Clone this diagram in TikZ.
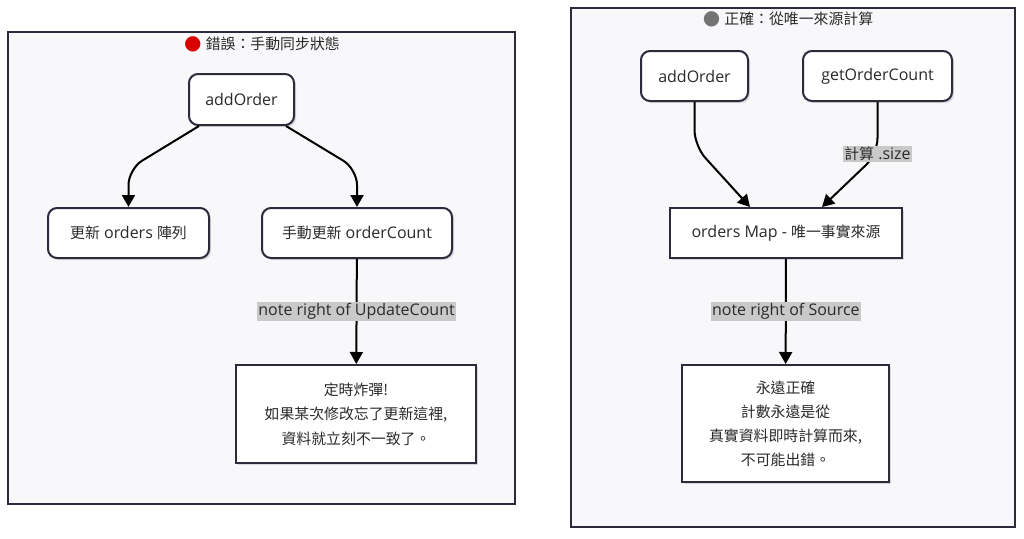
\documentclass[tikz,border=0pt]{standalone}
\usepackage{fontspec}
\setmainfont{Open Sans}
\newfontfamily\cjk[Scale=0.93]{Noto Sans CJK TC}
\newfontfamily\dotfont[Scale=1.25]{DejaVu Sans}
\usetikzlibrary{arrows.meta,shadows}
\definecolor{inkc}{HTML}{2A2A2A}
\definecolor{edgec}{HTML}{2B2B3C}
\definecolor{framefill}{HTML}{F8F8FB}
\begin{document}
\begin{tikzpicture}[x=1pt,y=-1pt,font=\fontsize{16}{24.5}\selectfont,text=inkc,
	frame/.style={draw=edgec,line width=1.8pt,fill=framefill},
	card/.style={draw=edgec,line width=2pt,fill=white,align=center,
		drop shadow={shadow xshift=2pt,shadow yshift=-2pt,opacity=.12,fill=black}},
	rcard/.style={card,rounded corners=9pt},
	note/.style={card,font=\fontsize{16}{24.5}\selectfont\cjk},
	flow/.style={line width=2pt,-{Triangle[length=12pt,width=13pt]},rounded corners=16pt},
	lbl/.style={fill=black!21,inner sep=1.5pt,sharp corners}]
	\useasboundingbox[fill=white] (0,0) rectangle (1024,538);
	% left: manual sync
	\draw[frame] (8,32) rectangle (515,504);
	\node (ttlL) at (262,44) {{\dotfont\textcolor{red!85!black}{●}} \cjk 錯誤：手動同步狀態};
	\node[rcard,minimum width=105pt,minimum height=51pt] (addL) at (241.5,99.5) {addOrder};
	\node[rcard,minimum width=161pt,minimum height=50pt] (updArr) at (128.5,233) {{\cjk 更新} orders {\cjk 陣列}};
	\node[rcard,minimum width=190pt,minimum height=50pt] (updCnt) at (357,233) {{\cjk 手動更新} orderCount};
	\node[note,minimum width=240pt,minimum height=98pt] (noteL) at (356,414) {定時炸彈!\\如果某次修改忘了更新這裡,\\資料就立刻不一致了。};
	\draw[flow] ([xshift=11pt]addL.south west) -- ([yshift=38pt]updArr.north) -- (updArr.north);
	\draw[flow] ([xshift=-9pt]addL.south east) -- ([yshift=38pt]updCnt.north) -- (updCnt.north);
	\draw[flow] (updCnt) -- node[lbl] {note right of UpdateCount} (noteL);
	% right: single source
	\draw[frame] (571,8) rectangle (1015,527);
	\node (ttlR) at (788,19) {{\dotfont\textcolor{black!55}{●}} \cjk 正確：從唯一來源計算};
	\node[rcard,minimum width=107pt,minimum height=50pt] (addR) at (694.5,76) {addOrder};
	\node[rcard,minimum width=149pt,minimum height=50pt] (getCnt) at (877.5,76) {getOrderCount};
	\node[card,minimum width=232pt,minimum height=50pt] (src) at (786,233) {orders Map - {\cjk 唯一事實來源}};
	\node[note,minimum width=207pt,minimum height=117pt,font=\fontsize{16}{24}\selectfont\cjk] (noteR) at (785.5,423.5) {永遠正確\\計數永遠是從\\真實資料即時計算而來,\\不可能出錯。};
	\draw[flow] (addR.south) -- ([yshift=-44pt]addR.south) -- ([xshift=-36pt]src.north);
	\draw[flow] (getCnt.south) -- ([yshift=-52pt]getCnt.south) node[lbl] {{\cjk 計算} .size} -- ([xshift=36pt]src.north);
	\draw[flow] (src) -- node[lbl] {note right of Source} (noteR);
\end{tikzpicture}
\end{document}
